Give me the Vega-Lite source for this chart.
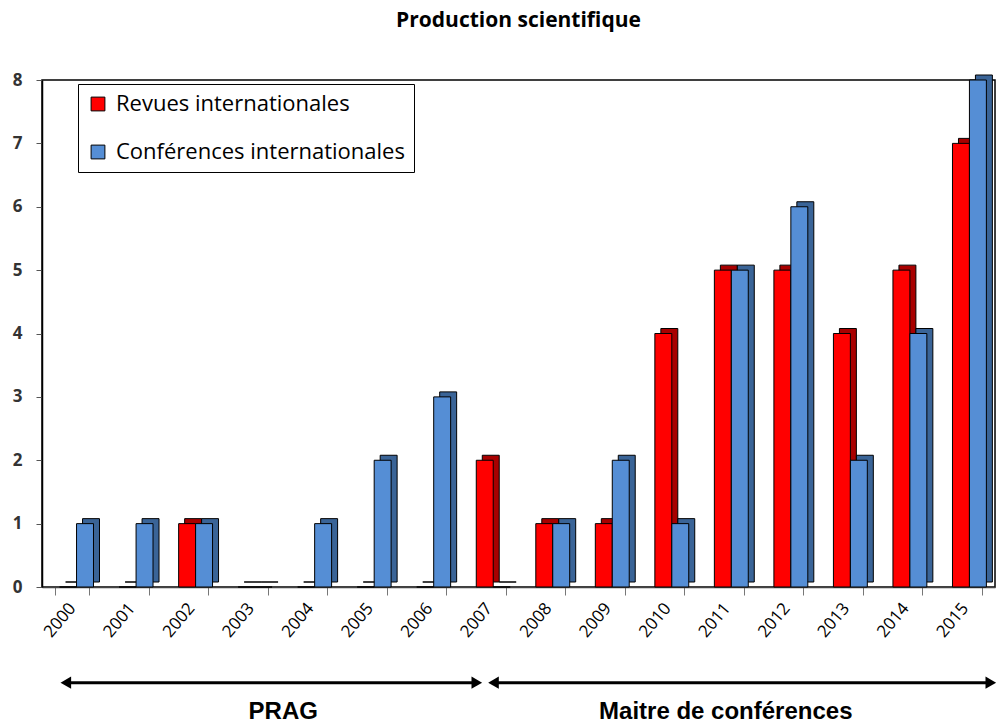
{
  "$schema": "https://vega.github.io/schema/vega-lite/v6.json",
  "width": 953,
  "height": 507,
  "autosize": {"type": "none"},
  "padding": {"left": 42, "top": 80, "right": 7, "bottom": 140},
  "background": "white",
  "title": {"text": "Production scientifique", "font": "Open Sans", "fontSize": 21, "fontWeight": "bold", "color": "black", "anchor": "middle", "offset": 40},
  "config": {
    "view": {"stroke": "black", "strokeWidth": 1.5},
    "font": "Open Sans"
  },
  "datasets": {
    "bars": [
      {"year": "2000", "type": "Revues internationales", "count": 0},
      {"year": "2000", "type": "Conférences internationales", "count": 1},
      {"year": "2001", "type": "Revues internationales", "count": 0},
      {"year": "2001", "type": "Conférences internationales", "count": 1},
      {"year": "2002", "type": "Revues internationales", "count": 1},
      {"year": "2002", "type": "Conférences internationales", "count": 1},
      {"year": "2003", "type": "Revues internationales", "count": 0},
      {"year": "2003", "type": "Conférences internationales", "count": 0},
      {"year": "2004", "type": "Revues internationales", "count": 0},
      {"year": "2004", "type": "Conférences internationales", "count": 1},
      {"year": "2005", "type": "Revues internationales", "count": 0},
      {"year": "2005", "type": "Conférences internationales", "count": 2},
      {"year": "2006", "type": "Revues internationales", "count": 0},
      {"year": "2006", "type": "Conférences internationales", "count": 3},
      {"year": "2007", "type": "Revues internationales", "count": 2},
      {"year": "2007", "type": "Conférences internationales", "count": 0},
      {"year": "2008", "type": "Revues internationales", "count": 1},
      {"year": "2008", "type": "Conférences internationales", "count": 1},
      {"year": "2009", "type": "Revues internationales", "count": 1},
      {"year": "2009", "type": "Conférences internationales", "count": 2},
      {"year": "2010", "type": "Revues internationales", "count": 4},
      {"year": "2010", "type": "Conférences internationales", "count": 1},
      {"year": "2011", "type": "Revues internationales", "count": 5},
      {"year": "2011", "type": "Conférences internationales", "count": 5},
      {"year": "2012", "type": "Revues internationales", "count": 5},
      {"year": "2012", "type": "Conférences internationales", "count": 6},
      {"year": "2013", "type": "Revues internationales", "count": 4},
      {"year": "2013", "type": "Conférences internationales", "count": 2},
      {"year": "2014", "type": "Revues internationales", "count": 5},
      {"year": "2014", "type": "Conférences internationales", "count": 4},
      {"year": "2015", "type": "Revues internationales", "count": 7},
      {"year": "2015", "type": "Conférences internationales", "count": 8}
    ],
    "heads": [
      {"pos": 0.4, "dir": "left", "seg": "a", "level": -1.51},
      {"pos": 7.3, "dir": "right", "seg": "a", "level": -1.51},
      {"pos": 7.58, "dir": "left", "seg": "b", "level": -1.51},
      {"pos": 15.93, "dir": "right", "seg": "b", "level": -1.51}
    ],
    "texts": [
      {"pos": 4.05, "level": -1.98, "label": "PRAG"},
      {"pos": 11.48, "level": -1.98, "label": "Maitre de conférences"}
    ]
  },
  "layer": [
    {
      "data": {"name": "bars"},
      "mark": {"type": "bar", "stroke": "black", "strokeWidth": 1, "yOffset": -5, "y2Offset": -5},
      "encoding": {
        "x": {"field": "year", "type": "ordinal", "scale": {"paddingInner": 0.43, "paddingOuter": 0.22}, "axis": null},
        "xOffset": {"field": "type", "type": "nominal", "sort": ["Revues internationales", "Conférences internationales"], "scale": {"range": [10.5, 44.4]}},
        "y": {"field": "count", "type": "quantitative", "scale": {"domain": [0, 8], "nice": false}, "axis": null},
        "color": {
          "field": "type", "type": "nominal",
          "scale": {"domain": ["Revues internationales", "Conférences internationales"], "range": ["#A80000", "#3A6497"]},
          "legend": null
        }
      }
    },
    {
      "data": {"name": "bars"},
      "mark": {"type": "bar", "stroke": "black", "strokeWidth": 1},
      "encoding": {
        "x": {
          "field": "year", "type": "ordinal",
          "scale": {"paddingInner": 0.43, "paddingOuter": 0.22},
          "axis": {"title": null, "labelAngle": -50, "labelAlign": "right", "labelBaseline": "middle", "labelFontSize": 17, "labelColor": "black", "labelPadding": 10, "domainColor": "#444", "domainWidth": 1.5, "tickColor": "#777", "tickSize": 8, "tickBand": "extent"}
        },
        "xOffset": {"field": "type", "type": "nominal", "sort": ["Revues internationales", "Conférences internationales"], "scale": {"range": [4.5, 38.4]}},
        "y": {
          "field": "count", "type": "quantitative",
          "scale": {"domain": [0, 8], "nice": false},
          "axis": {"title": null, "values": [0, 1, 2, 3, 4, 5, 6, 7, 8], "labelFontSize": 17, "labelFontWeight": "bold", "labelColor": "#333", "labelPadding": 14, "domainColor": "black", "domainWidth": 1.5, "tickColor": "#555", "tickSize": 6, "gridColor": "black", "gridWidth": 1.3}
        },
        "color": {
          "field": "type", "type": "nominal",
          "scale": {"domain": ["Revues internationales", "Conférences internationales"], "range": ["#FF0000", "#558ED5"]},
          "legend": {"title": null, "orient": "none", "legendX": 36, "legendY": 4, "fillColor": "white", "strokeColor": "black", "padding": 9, "symbolType": "square", "symbolSize": 190, "symbolStrokeColor": "black", "symbolStrokeWidth": 1, "labelFontSize": 22, "labelColor": "black", "labelOffset": 7, "rowPadding": 26, "labelLimit": 400}
        }
      }
    },
    {
      "data": {"name": "heads"},
      "mark": {"type": "line", "strokeWidth": 3, "color": "black"},
      "encoding": {
        "x": {"field": "pos", "type": "quantitative", "scale": {"domain": [0, 16], "nice": false, "zero": false}, "axis": null},
        "y": {"field": "level", "type": "quantitative", "scale": {"domain": [0, 8], "nice": false}, "axis": null},
        "detail": {"field": "seg"}
      }
    },
    {
      "data": {"name": "heads"},
      "mark": {"type": "point", "filled": true, "color": "black", "opacity": 1, "size": 150},
      "encoding": {
        "x": {"field": "pos", "type": "quantitative", "scale": {"domain": [0, 16], "nice": false, "zero": false}, "axis": null},
        "y": {"field": "level", "type": "quantitative", "scale": {"domain": [0, 8], "nice": false}, "axis": null},
        "shape": {"field": "dir", "type": "nominal", "scale": {"domain": ["left", "right"], "range": ["triangle-left", "triangle-right"]}, "legend": null}
      }
    },
    {
      "data": {"name": "texts"},
      "mark": {"type": "text", "font": "Liberation Sans", "fontSize": 24, "fontWeight": "bold", "color": "black", "baseline": "middle", "align": "center"},
      "encoding": {
        "x": {"field": "pos", "type": "quantitative", "scale": {"domain": [0, 16], "nice": false, "zero": false}, "axis": null},
        "y": {"field": "level", "type": "quantitative", "scale": {"domain": [0, 8], "nice": false}, "axis": null},
        "text": {"field": "label"}
      }
    }
  ],
  "resolve": {"scale": {"x": "independent", "y": "independent", "xOffset": "independent", "color": "independent"}}
}
